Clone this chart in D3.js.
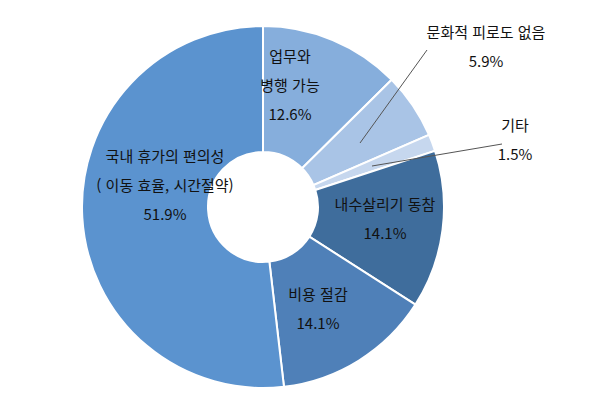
<!DOCTYPE html>
<html lang="ko">
<head>
<meta charset="UTF-8">
<script src="https://d3js.org/d3.v7.min.js"></script>
<style>
    body { margin: 0; background: #fff; font-family: "Noto Sans CJK KR", sans-serif; }
    text { fill: #111; font-size: 15px; text-anchor: middle; }
</style>
</head>
<body>
<svg width="595" height="403"></svg>
<script>
    // 데이터
    const labels = [["업무와", "병행 가능"], ["문화적 피로도 없음"], ["기타"], ["내수살리기 동참"], ["비용 절감"], ["국내 휴가의 편의성", "( 이동 효율, 시간절약)"]];
    const values = [12.6, 5.9, 1.5, 14.1, 14.1, 51.9];
    const colors = ["#86aedc", "#a9c4e6", "#c6d7ee", "#3f6d9c", "#4f80b8", "#5b93cf"];
    // 라벨 위치 (중심 기준)
    const labelPos = [[27, -145], [223, -169], [252, -76], [122, 3], [55, 93], [-98, -45]];
    const leaders = [[[164, -157], [97, -64]], [[239, -63], [109, -41]]];

    const svg = d3.select("svg");
    const cx = 263, cy = 207, rOut = 181, rIn = 55;
    const g = svg.append("g").attr("transform", `translate(${cx},${cy})`);

    const pie = d3.pie().sort(null).value(d => d);
    const arc = d3.arc().innerRadius(rIn).outerRadius(rOut);

    g.selectAll("path")
        .data(pie(values))
        .enter().append("path")
        .attr("d", arc)
        .attr("fill", (d, i) => colors[i])
        .attr("stroke", "#fff")
        .attr("stroke-width", 2);

    // 지시선
    g.selectAll(".leader")
        .data(leaders)
        .enter().append("line")
        .attr("x1", d => d[0][0]).attr("y1", d => d[0][1])
        .attr("x2", d => d[1][0]).attr("y2", d => d[1][1])
        .attr("stroke", "#555").attr("stroke-width", 1);

    labels.forEach((lines, i) => {
        const t = g.append("text")
            .attr("x", labelPos[i][0]).attr("y", labelPos[i][1]);
        lines.concat([values[i].toFixed(1) + "%"]).forEach((s, j) => {
            t.append("tspan").attr("x", labelPos[i][0]).attr("dy", j === 0 ? 0 : 29).text(s);
        });
    });
</script>
</body>
</html>
